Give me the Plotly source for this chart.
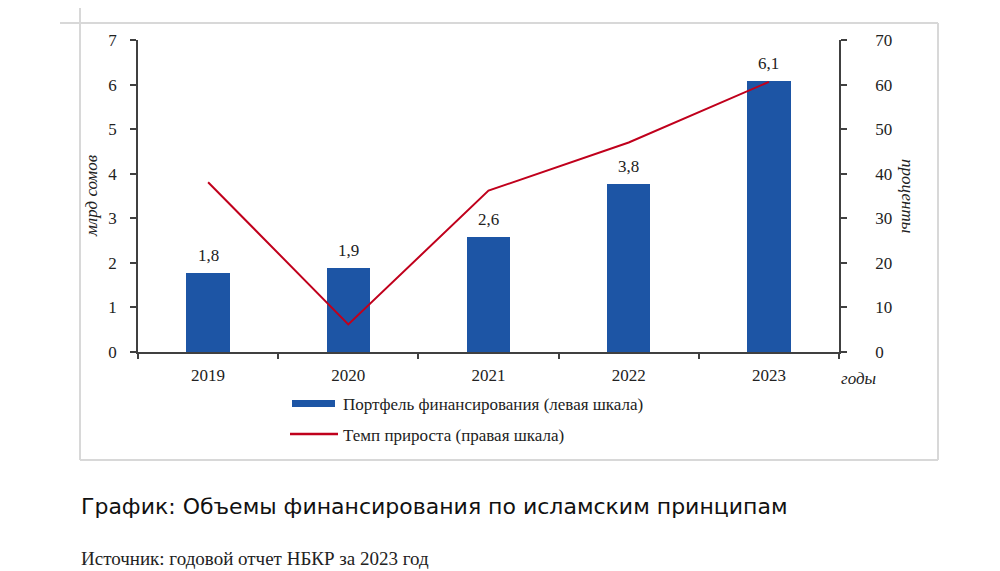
import plotly.graph_objects as go

years = ["2019", "2020", "2021", "2022", "2023"]
portfolio = [1.78, 1.89, 2.58, 3.78, 6.07]     # млрд сомов (левая шкала)
growth = [38.1, 6.2, 36.2, 47.0, 60.6]         # проценты (правая шкала)
left_ticks = [0, 1, 2, 3, 4, 5, 6, 7]
right_ticks = [0, 10, 20, 30, 40, 50, 60, 70]

bar_name = "Портфель финансирования (левая шкала)"
line_name = "Темп прироста (правая шкала)"
title_text = "График: Объемы финансирования по исламским принципам"
source_text = "Источник: годовой отчет НБКР за 2023 год"

OFF = 8  # default body margin of the html page
W, H = 1000 - OFF, 571 - OFF
# plot area in page pixels
L, R, T, B = 138, 839, 40, 352
BAR_C = "#1d55a5"
LINE_C = "#c0001c"
AX_C = "#404040"
TXT_C = "#222222"
SERIF = "Liberation Serif, Times New Roman, serif"
FS = 17


def px(x):
    return (x - L) / (R - L)


def py(y):
    return (B - y) / (B - T)


fig = go.Figure()
fig.add_trace(go.Bar(x=years, y=portfolio, name=bar_name, marker_color=BAR_C,
                     marker_line_width=0, width=0.31, yaxis="y", showlegend=False,
                     hoverinfo="skip"))
fig.add_trace(go.Scatter(x=years, y=growth, name=line_name, mode="lines",
                         line=dict(color=LINE_C, width=2), yaxis="y2", showlegend=False,
                         hoverinfo="skip"))

annotations = []
for i, v in enumerate(portfolio):
    annotations.append(dict(x=i, y=v, xref="x", yref="y", text=f"{v:.1f}".replace(".", ","),
                            showarrow=False, xanchor="center", yanchor="bottom", yshift=6,
                            font=dict(family=SERIF, size=FS, color=TXT_C)))


def note(x, y, text, size=FS, family=SERIF, xanchor="center", angle=0, color=TXT_C):
    return dict(x=px(x), y=py(y), xref="paper", yref="paper", text=text, textangle=angle,
                xanchor=xanchor, yanchor="middle", showarrow=False,
                font=dict(family=family, size=size, color=color))


annotations += [
    note(91, 196, "<i>млрд сомов</i>", angle=-90),
    note(908, 196, "<i>проценты</i>", angle=90),
    note(839, 378, "<i>годы</i>", xanchor="left"),
    note(341, 404, bar_name, xanchor="left"),
    note(341, 435, line_name, xanchor="left"),
    note(79, 506, title_text, size=22, family="DejaVu Sans", xanchor="left", color="#111111"),
    note(79, 558, source_text, size=19, xanchor="left"),
]

frame_c = "#d8d8d8"


def pline(x0, y0, x1, y1, color, width):
    return dict(type="line", xref="paper", yref="paper", x0=px(x0), x1=px(x1), y0=py(y0),
                y1=py(y1), line=dict(color=color, width=width))


shapes = [
    pline(60, 23, 938, 23, frame_c, 2),
    pline(80, 0, 80, 460, frame_c, 2),
    pline(938, 23, 938, 460, frame_c, 2),
    pline(80, 460, 938, 460, frame_c, 2),
    dict(type="rect", xref="paper", yref="paper", x0=px(292), x1=px(335), y0=py(400), y1=py(407),
         fillcolor=BAR_C, line=dict(width=0)),
    pline(290, 434, 338, 434, LINE_C, 2.5),
]

fig.update_layout(
    width=W, height=H,
    margin=dict(l=L - OFF, r=W - (R - OFF), t=T - OFF, b=H - (B - OFF), pad=0),
    paper_bgcolor="white", plot_bgcolor="white",
    font=dict(family=SERIF, size=FS, color=TXT_C),
    bargap=0,
    xaxis=dict(type="category", range=[-0.5, 4.5], showline=True, linecolor=AX_C, linewidth=1.5,
               ticks="outside", tickson="boundaries", ticklen=5, tickcolor=AX_C, tickwidth=1.5,
               showgrid=False, zeroline=False, tickfont=dict(family=SERIF, size=FS),
               ticklabelstandoff=7),
    yaxis=dict(range=[0, 7], tickvals=left_ticks, showline=True, linecolor=AX_C, linewidth=1.5,
               ticks="outside", ticklen=6, tickcolor=AX_C, tickwidth=1.5, showgrid=False,
               zeroline=False, tickfont=dict(family=SERIF, size=FS), ticklabelstandoff=10),
    yaxis2=dict(range=[0, 70], tickvals=right_ticks, overlaying="y", side="right", showline=True,
                linecolor=AX_C, linewidth=1.5, ticks="outside", ticklen=6, tickcolor=AX_C,
                tickwidth=1.5, showgrid=False, zeroline=False, tickfont=dict(family=SERIF, size=FS),
                ticklabelstandoff=25),
    annotations=annotations,
    shapes=shapes,
    showlegend=False,
)

fig.write_html("out.html")
